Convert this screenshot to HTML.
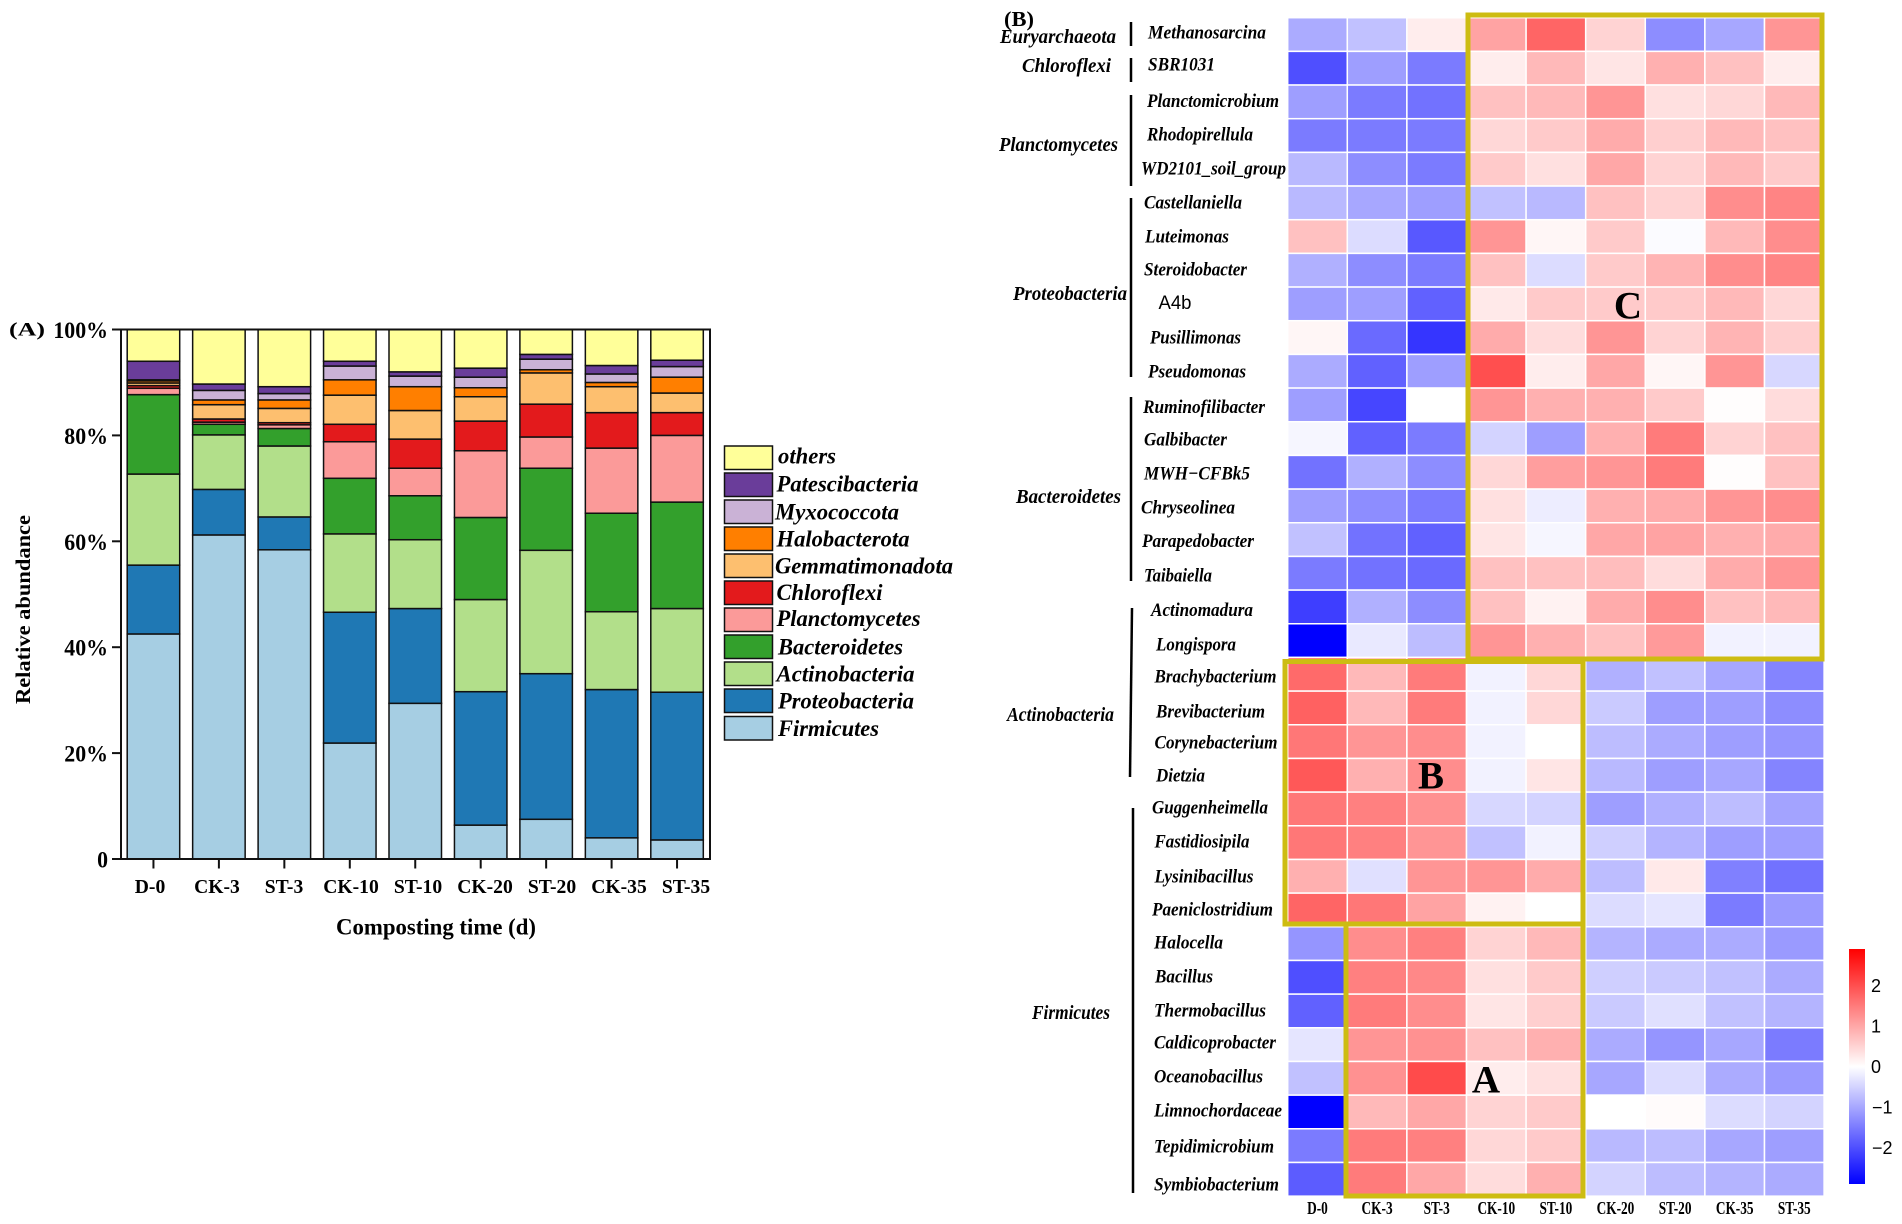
<!DOCTYPE html>
<html lang="en">
<head>
<meta charset="utf-8">
<title>Composting microbial community charts</title>
<style>
html,body{margin:0;padding:0;background:#fff;}
svg{display:block;}
text{font-family:"Liberation Serif",serif;font-weight:bold;fill:#000;dominant-baseline:central;}
.it{font-style:italic;}
.rl{font-size:19px;}
.ph{font-size:20px;}
.lg{font-size:23px;}
</style>
</head>
<body>
<svg id="figure" xmlns="http://www.w3.org/2000/svg" width="1902" height="1224" viewBox="0 0 1902 1224">
  <defs>
    <linearGradient id="cbGrad" x1="0" y1="0" x2="0" y2="1">
      <stop offset="0" stop-color="#ff0000"/>
      <stop offset="0.5" stop-color="#ffffff"/>
      <stop offset="1" stop-color="#0000ff"/>
    </linearGradient>
  </defs>
  <rect width="1902" height="1224" fill="#fff"/>

  <!-- Panel A -->
  <g id="panelA">
    <text x="9" y="330" font-size="19" textLength="36" lengthAdjust="spacingAndGlyphs">(A)</text>
    <g id="bars"></g>
    <rect x="121" y="329.5" width="589" height="529.5" fill="none" stroke="#111" stroke-width="2"/>
    <g id="yAxis"></g>
    <g id="xAxis"></g>
    <text transform="translate(23,609.5) rotate(-90)" font-size="21" text-anchor="middle" textLength="189" lengthAdjust="spacingAndGlyphs">Relative abundance</text>
    <text x="436" y="927" font-size="23" text-anchor="middle" textLength="200" lengthAdjust="spacingAndGlyphs">Composting time (d)</text>
    <g>
      <rect x="724.5" y="446" width="48" height="23.5" fill="#FFFF99" stroke="#111" stroke-width="1.5"/>
      <rect x="724.5" y="473" width="48" height="23.5" fill="#6A3D9A" stroke="#111" stroke-width="1.5"/>
      <rect x="724.5" y="500" width="48" height="23.5" fill="#CAB2D6" stroke="#111" stroke-width="1.5"/>
      <rect x="724.5" y="527" width="48" height="23.5" fill="#FF7F00" stroke="#111" stroke-width="1.5"/>
      <rect x="724.5" y="554" width="48" height="23.5" fill="#FDBF6F" stroke="#111" stroke-width="1.5"/>
      <rect x="724.5" y="581" width="48" height="23.5" fill="#E31A1C" stroke="#111" stroke-width="1.5"/>
      <rect x="724.5" y="608" width="48" height="23.5" fill="#FB9A99" stroke="#111" stroke-width="1.5"/>
      <rect x="724.5" y="635" width="48" height="23.5" fill="#33A02C" stroke="#111" stroke-width="1.5"/>
      <rect x="724.5" y="662" width="48" height="23.5" fill="#B2DF8A" stroke="#111" stroke-width="1.5"/>
      <rect x="724.5" y="689" width="48" height="23.5" fill="#1F78B4" stroke="#111" stroke-width="1.5"/>
      <rect x="724.5" y="716.5" width="48" height="23.5" fill="#A6CEE3" stroke="#111" stroke-width="1.5"/>
      <text class="it lg" x="778" y="456" textLength="58" lengthAdjust="spacingAndGlyphs">others</text>
      <text class="it lg" x="776.5" y="484" textLength="142" lengthAdjust="spacingAndGlyphs">Patescibacteria</text>
      <text class="it lg" x="775" y="512" textLength="124" lengthAdjust="spacingAndGlyphs">Myxococcota</text>
      <text class="it lg" x="776.5" y="539" textLength="133" lengthAdjust="spacingAndGlyphs">Halobacterota</text>
      <text class="it lg" x="775" y="566" textLength="178" lengthAdjust="spacingAndGlyphs">Gemmatimonadota</text>
      <text class="it lg" x="776.5" y="592.5" textLength="106" lengthAdjust="spacingAndGlyphs">Chloroflexi</text>
      <text class="it lg" x="776.5" y="618.5" textLength="144" lengthAdjust="spacingAndGlyphs">Planctomycetes</text>
      <text class="it lg" x="778" y="647" textLength="125" lengthAdjust="spacingAndGlyphs">Bacteroidetes</text>
      <text class="it lg" x="776.5" y="674" textLength="138" lengthAdjust="spacingAndGlyphs">Actinobacteria</text>
      <text class="it lg" x="778" y="701" textLength="136" lengthAdjust="spacingAndGlyphs">Proteobacteria</text>
      <text class="it lg" x="778" y="728.5" textLength="101" lengthAdjust="spacingAndGlyphs">Firmicutes</text>
    </g>
  </g>

  <!-- Panel B -->
  <g id="panelB">
    <text x="1004" y="19" font-size="21" textLength="30" lengthAdjust="spacingAndGlyphs">(B)</text>
    <g id="cells"></g>
    <g id="heatX"></g>

    <g fill="none" stroke="#CDBC12" stroke-width="5">
      <rect x="1468" y="15" width="354" height="644"/>
      <rect x="1285" y="661.5" width="298" height="262.5"/>
      <rect x="1346" y="924" width="237" height="272"/>
    </g>
    <text x="1628" y="306" font-size="39" text-anchor="middle">C</text>
    <text x="1431" y="776" font-size="39" text-anchor="middle">B</text>
    <text x="1486" y="1080" font-size="39" text-anchor="middle">A</text>

    <g stroke="#000" stroke-width="2.5">
      <line x1="1131" y1="22" x2="1131" y2="46"/>
      <line x1="1131" y1="58" x2="1131" y2="82"/>
      <line x1="1131" y1="95" x2="1131" y2="186"/>
      <line x1="1131" y1="198" x2="1131" y2="377"/>
      <line x1="1131" y1="397" x2="1131" y2="581"/>
      <line x1="1132" y1="608" x2="1130" y2="777"/>
      <line x1="1133" y1="808" x2="1133" y2="1193"/>
    </g>

    <text class="it ph" x="1000" y="37" textLength="116" lengthAdjust="spacingAndGlyphs">Euryarchaeota</text>
    <text class="it ph" x="1022" y="66" textLength="89" lengthAdjust="spacingAndGlyphs">Chloroflexi</text>
    <text class="it ph" x="999" y="145" textLength="119" lengthAdjust="spacingAndGlyphs">Planctomycetes</text>
    <text class="it ph" x="1013" y="294" textLength="114" lengthAdjust="spacingAndGlyphs">Proteobacteria</text>
    <text class="it ph" x="1016" y="497" textLength="105" lengthAdjust="spacingAndGlyphs">Bacteroidetes</text>
    <text class="it ph" x="1007" y="715" textLength="107" lengthAdjust="spacingAndGlyphs">Actinobacteria</text>
    <text class="it ph" x="1032" y="1013" textLength="78" lengthAdjust="spacingAndGlyphs">Firmicutes</text>

    <g>
      <text class="it rl" x="1148" y="33" textLength="118" lengthAdjust="spacingAndGlyphs">Methanosarcina</text>
      <text class="it rl" x="1148" y="65" textLength="67" lengthAdjust="spacingAndGlyphs">SBR1031</text>
      <text class="it rl" x="1147" y="101.5" textLength="132" lengthAdjust="spacingAndGlyphs">Planctomicrobium</text>
      <text class="it rl" x="1147" y="135" textLength="106" lengthAdjust="spacingAndGlyphs">Rhodopirellula</text>
      <text class="it rl" x="1141" y="169" textLength="145" lengthAdjust="spacingAndGlyphs">WD2101_soil_group</text>
      <text class="it rl" x="1144" y="203" textLength="98" lengthAdjust="spacingAndGlyphs">Castellaniella</text>
      <text class="it rl" x="1145" y="237" textLength="84" lengthAdjust="spacingAndGlyphs">Luteimonas</text>
      <text class="it rl" x="1144" y="270" textLength="103" lengthAdjust="spacingAndGlyphs">Steroidobacter</text>
      <text x="1158.5" y="303.5" textLength="33" lengthAdjust="spacingAndGlyphs" style="font-family:'Liberation Sans',sans-serif;font-weight:normal;font-size:19px;">A4b</text>
      <text class="it rl" x="1150" y="338" textLength="91" lengthAdjust="spacingAndGlyphs">Pusillimonas</text>
      <text class="it rl" x="1148" y="372" textLength="98" lengthAdjust="spacingAndGlyphs">Pseudomonas</text>
      <text class="it rl" x="1143" y="407.5" textLength="122" lengthAdjust="spacingAndGlyphs">Ruminofilibacter</text>
      <text class="it rl" x="1144" y="440" textLength="83" lengthAdjust="spacingAndGlyphs">Galbibacter</text>
      <text class="it rl" x="1144" y="474" textLength="106" lengthAdjust="spacingAndGlyphs">MWH−CFBk5</text>
      <text class="it rl" x="1141" y="508" textLength="94" lengthAdjust="spacingAndGlyphs">Chryseolinea</text>
      <text class="it rl" x="1142" y="541.5" textLength="112" lengthAdjust="spacingAndGlyphs">Parapedobacter</text>
      <text class="it rl" x="1144" y="576" textLength="68" lengthAdjust="spacingAndGlyphs">Taibaiella</text>
      <text class="it rl" x="1151" y="610.5" textLength="102" lengthAdjust="spacingAndGlyphs">Actinomadura</text>
      <text class="it rl" x="1156" y="645" textLength="80" lengthAdjust="spacingAndGlyphs">Longispora</text>
      <text class="it rl" x="1154.5" y="677" textLength="122" lengthAdjust="spacingAndGlyphs">Brachybacterium</text>
      <text class="it rl" x="1156" y="712" textLength="109" lengthAdjust="spacingAndGlyphs">Brevibacterium</text>
      <text class="it rl" x="1154.5" y="743" textLength="123" lengthAdjust="spacingAndGlyphs">Corynebacterium</text>
      <text class="it rl" x="1156" y="776" textLength="49" lengthAdjust="spacingAndGlyphs">Dietzia</text>
      <text class="it rl" x="1152" y="808" textLength="116" lengthAdjust="spacingAndGlyphs">Guggenheimella</text>
      <text class="it rl" x="1154.5" y="842" textLength="95" lengthAdjust="spacingAndGlyphs">Fastidiosipila</text>
      <text class="it rl" x="1154.5" y="877" textLength="99" lengthAdjust="spacingAndGlyphs">Lysinibacillus</text>
      <text class="it rl" x="1152" y="910" textLength="121" lengthAdjust="spacingAndGlyphs">Paeniclostridium</text>
      <text class="it rl" x="1154" y="943" textLength="69" lengthAdjust="spacingAndGlyphs">Halocella</text>
      <text class="it rl" x="1155" y="977" textLength="58" lengthAdjust="spacingAndGlyphs">Bacillus</text>
      <text class="it rl" x="1154" y="1011" textLength="112" lengthAdjust="spacingAndGlyphs">Thermobacillus</text>
      <text class="it rl" x="1154" y="1043" textLength="122" lengthAdjust="spacingAndGlyphs">Caldicoprobacter</text>
      <text class="it rl" x="1154" y="1077" textLength="109" lengthAdjust="spacingAndGlyphs">Oceanobacillus</text>
      <text class="it rl" x="1154" y="1111" textLength="128" lengthAdjust="spacingAndGlyphs">Limnochordaceae</text>
      <text class="it rl" x="1154" y="1147" textLength="120" lengthAdjust="spacingAndGlyphs">Tepidimicrobium</text>
      <text class="it rl" x="1154" y="1185" textLength="125" lengthAdjust="spacingAndGlyphs">Symbiobacterium</text>
    </g>

    <g id="colorbar">
      <rect x="1849" y="949" width="16" height="235" fill="url(#cbGrad)"/>
    </g>
  </g>
</svg>

<script>
// ---- Panel A data ----
const barCategories = ["D-0","CK-3","ST-3","CK-10","ST-10","CK-20","ST-20","CK-35","ST-35"];
const firmicutes     = [42.5,61.2,58.4,21.9,29.4,6.4,7.5,4.0,3.6];
const proteobacteria = [13.0,8.6,6.2,24.7,17.9,25.2,27.5,28.0,27.9];
const actinobacteria = [17.2,10.3,13.4,14.8,13.0,17.4,23.3,14.7,15.8];
const bacteroidetes  = [15.0,2.0,3.3,10.5,8.3,15.5,15.5,18.6,20.1];
const planctomycetes = [1.2,0.4,0.7,6.9,5.2,12.6,5.9,12.3,12.6];
const chloroflexi    = [0.5,0.6,0.4,3.3,5.5,5.6,6.2,6.7,4.3];
const gemmatimonadota= [0.5,2.7,2.7,5.5,5.4,4.6,5.9,4.9,3.7];
const halobacterota  = [0.4,0.9,1.6,2.9,4.5,1.7,0.6,0.8,3.0];
const myxococcota    = [0.2,1.8,1.2,2.6,2.0,2.0,2.0,1.6,2.0];
const patescibacteria= [3.5,1.2,1.3,0.9,0.8,1.7,0.9,1.6,1.2];
const others         = [6.0,10.3,10.8,6.0,8.0,7.3,4.7,6.8,5.8];
const yTickValues = [0,20,40,60,80,100];
const yTickLabels = ["0","20%","40%","60%","80%","100%"];
const seriesNames = ["firmicutes","proteobacteria","actinobacteria","bacteroidetes","planctomycetes","chloroflexi","gemmatimonadota","halobacterota","myxococcota","patescibacteria","others"];

// ---- Panel B data ----
const heatColumns = ["D-0","CK-3","ST-3","CK-10","ST-10","CK-20","ST-20","CK-35","ST-35"];
const heatTaxa = ["Methanosarcina","SBR1031","Planctomicrobium","Rhodopirellula","WD2101_soil_group","Castellaniella","Luteimonas","Steroidobacter","A4b","Pusillimonas","Pseudomonas","Ruminofilibacter","Galbibacter","MWH-CFBk5","Chryseolinea","Parapedobacter","Taibaiella","Actinomadura","Longispora","Brachybacterium","Brevibacterium","Corynebacterium","Dietzia","Guggenheimella","Fastidiosipila","Lysinibacillus","Paeniclostridium","Halocella","Bacillus","Thermobacillus","Caldicoprobacter","Oceanobacillus","Limnochordaceae","Tepidimicrobium","Symbiobacterium"];
const heatValues = [
[-0.95,-0.7,0.2,1.05,1.75,0.5,-1.3,-1.0,1.2],
[-2.0,-1.1,-1.5,0.2,0.8,0.3,0.9,0.7,0.2],
[-1.1,-1.5,-1.6,0.7,0.8,1.2,0.35,0.45,0.8],
[-1.5,-1.5,-1.5,0.45,0.6,0.95,0.55,0.8,0.7],
[-0.8,-1.3,-1.5,0.6,0.35,1.0,0.5,0.8,0.6],
[-0.8,-1.0,-1.1,-0.7,-0.8,0.7,0.5,1.3,1.4],
[0.7,-0.4,-1.9,1.2,0.1,0.6,-0.05,0.8,1.3],
[-0.9,-1.3,-1.5,0.7,-0.4,0.6,0.85,1.3,1.4],
[-1.1,-1.1,-1.8,0.25,0.6,0.6,0.6,0.8,0.45],
[0.1,-1.7,-2.3,0.95,0.4,1.2,0.5,0.85,0.55],
[-0.95,-1.8,-1.1,2.0,0.2,1.0,0.1,1.2,-0.45],
[-1.1,-2.1,0.0,1.2,0.9,0.9,0.6,0.02,0.4],
[-0.1,-1.8,-1.5,-0.5,-1.1,0.9,1.5,0.5,0.7],
[-1.6,-0.9,-1.3,0.45,1.1,1.2,1.5,0.02,0.7],
[-1.1,-1.3,-1.5,0.35,-0.2,0.9,0.95,1.2,1.3],
[-0.7,-1.6,-1.8,0.3,-0.1,1.0,1.05,0.9,0.95],
[-1.5,-1.6,-1.7,0.7,0.7,0.75,0.4,0.95,1.2],
[-2.2,-0.9,-1.3,0.7,0.15,0.95,1.3,0.7,0.8],
[-2.9,-0.25,-0.75,1.2,0.9,0.7,1.15,-0.15,-0.15],
[1.7,0.8,1.5,-0.15,0.45,-0.9,-0.7,-1.0,-1.4],
[1.8,0.8,1.5,-0.15,0.45,-0.6,-1.1,-1.1,-1.3],
[1.55,1.2,1.3,-0.15,0.0,-0.75,-0.95,-1.1,-1.2],
[1.9,0.9,1.3,-0.15,0.3,-0.8,-1.1,-1.0,-1.4],
[1.55,1.45,1.25,-0.45,-0.5,-1.1,-0.9,-0.75,-1.05],
[1.55,1.45,1.2,-0.7,-0.15,-0.55,-0.85,-1.1,-1.1],
[0.9,-0.35,1.2,1.2,0.95,-0.75,0.25,-1.45,-1.6],
[1.75,1.55,1.05,0.15,0.0,-0.4,-0.3,-1.5,-1.15],
[-1.2,1.3,1.45,0.5,0.8,-0.85,-0.95,-0.95,-1.15],
[-2.0,1.45,1.35,0.35,0.6,-0.55,-0.6,-0.7,-0.95],
[-1.8,1.5,1.3,0.3,0.55,-0.6,-0.35,-0.7,-0.85],
[-0.3,1.2,1.25,0.7,0.9,-0.95,-1.2,-1.0,-1.5],
[-0.7,1.25,2.05,0.2,0.35,-1.0,-0.4,-0.95,-1.15],
[-2.9,0.8,1.0,0.5,0.6,0.0,0.05,-0.4,-0.5],
[-1.5,1.5,1.45,0.45,0.6,-0.8,-0.75,-1.0,-1.1],
[-1.85,1.5,1.0,0.4,0.9,-0.5,-0.75,-0.85,-0.95]
];
const colorbarTicks = [2,1,0,-1,-2];

const NS = "http://www.w3.org/2000/svg";
const seriesColors = ["#A6CEE3","#1F78B4","#B2DF8A","#33A02C","#FB9A99","#E31A1C","#FDBF6F","#FF7F00","#CAB2D6","#6A3D9A","#FFFF99"];
const allSeries = [firmicutes,proteobacteria,actinobacteria,bacteroidetes,planctomycetes,chloroflexi,gemmatimonadota,halobacterota,myxococcota,patescibacteria,others];

function svgEl(tag, parent, attrs) {
  const el = document.createElementNS(NS, tag);
  for (const k in attrs) el.setAttribute(k, attrs[k]);
  parent.appendChild(el);
  return el;
}
function slug(s) { return String(s).toLowerCase().replace(/[^a-z0-9]+/g, "-"); }
function squeeze(el, ratio) {
  const len = el.getComputedTextLength();
  el.setAttribute("textLength", (len * ratio).toFixed(1));
  el.setAttribute("lengthAdjust", "spacingAndGlyphs");
}

// Axis functions, panel A
function yScale(v) { return 859 - v * 5.295; }
function xBand(i) { return 127.2 + i * 65.45; }
function xLabelCenter(i) { return 150 + i * 67; }
const barWidth = 52.5;

const barsG = document.getElementById("bars");
barCategories.forEach(function (cat, i) {
  let base = 0;
  allSeries.forEach(function (values, s) {
    const top = base + values[i];
    const rect = svgEl("rect", barsG, {
      x: xBand(i), y: yScale(Math.min(top, 100)), width: barWidth,
      height: Math.max(0, yScale(base) - yScale(Math.min(top, 100))),
      fill: seriesColors[s], stroke: "#111", "stroke-width": 1.5
    });
    
    
    base = top;
  });
});

const yAxisG = document.getElementById("yAxis");
yTickValues.forEach(function (v, i) {
  const tick = svgEl("line", yAxisG, { x1: 112, x2: 121, y1: yScale(v), y2: yScale(v), stroke: "#111", "stroke-width": 2 });
  
  
  const lab = svgEl("text", yAxisG, { x: 108, y: yScale(v) + 1, "text-anchor": "end", "font-size": 23 });
  lab.textContent = yTickLabels[i];
  
  
  squeeze(lab, 0.95);
});

const xAxisG = document.getElementById("xAxis");
barCategories.forEach(function (cat, i) {
  const cx = xBand(i) + barWidth / 2;
  const tick = svgEl("line", xAxisG, { x1: cx, x2: cx, y1: 859, y2: 868.5, stroke: "#111", "stroke-width": 2 });
  
  
  const lab = svgEl("text", xAxisG, { x: xLabelCenter(i), y: 887, "text-anchor": "middle", "font-size": 20 });
  lab.textContent = cat;
  
  
  squeeze(lab, 0.98);
});

// Axis functions, panel B
function colX(j) { return 1287.7 + j * 59.6; }
function rowY(r) { return 17.7 + r * 33.67; }
function heatColor(v) {
  const t = Math.min(1, Math.abs(v) / 2.9);
  const c = Math.round(255 * (1 - t));
  return v >= 0 ? "rgb(255," + c + "," + c + ")" : "rgb(" + c + "," + c + ",255)";
}
const cellsG = document.getElementById("cells");
heatValues.forEach(function (row, r) {
  row.forEach(function (v, j) {
    const cell = svgEl("rect", cellsG, { x: colX(j), y: rowY(r), width: 59.6, height: 33.67, fill: heatColor(v), stroke: "#fff", "stroke-width": 1.5 });
    
    
  });
});

const heatXG = document.getElementById("heatX");
heatColumns.forEach(function (c, j) {
  const lab = svgEl("text", heatXG, { x: colX(j) + 29.8, y: 1208, "text-anchor": "middle", "font-size": 18 });
  lab.textContent = c;
  
  
  squeeze(lab, 0.74);
});

function cbY(v) { return 1067 - v * 40.4; }
const cbG = document.getElementById("colorbar");
colorbarTicks.forEach(function (v) {
  const lab = svgEl("text", cbG, { x: v < 0 ? 1872 : 1871, y: cbY(v), "font-size": 18, style: "font-family:'Liberation Sans',sans-serif;font-weight:normal;" });
  lab.textContent = v < 0 ? "\u2212" + Math.abs(v) : String(v);
  
  
});
</script>
</body>
</html>
